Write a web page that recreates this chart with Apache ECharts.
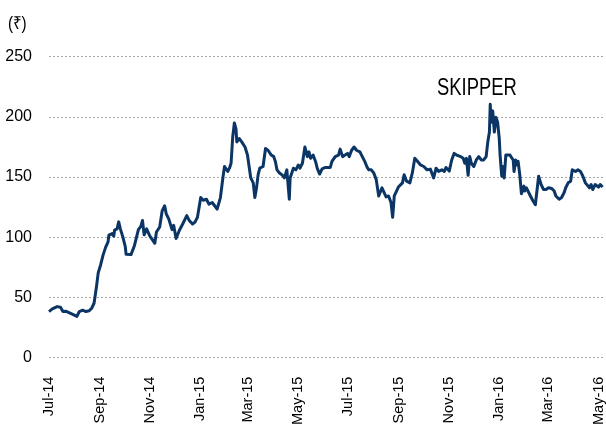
<!DOCTYPE html>
<html>
<head>
<meta charset="utf-8">
<script src="https://cdn.jsdelivr.net/npm/echarts@6/dist/echarts.min.js"></script>
<style>
html,body{margin:0;padding:0;background:#fff;}
#chart{width:606px;height:428px;}
</style>
</head>
<body>
<div id="chart"></div>
<script>
const dates = [
'2014-07-01','2014-07-05','2014-07-11','2014-07-15','2014-07-18','2014-07-22','2014-07-24','2014-07-30','2014-08-04','2014-08-07',
'2014-08-11','2014-08-15','2014-08-19','2014-08-22','2014-08-25','2014-08-28','2014-08-30','2014-09-02','2014-09-05','2014-09-08',
'2014-09-11','2014-09-12','2014-09-16','2014-09-18','2014-09-19','2014-09-22','2014-09-24','2014-09-26','2014-09-29','2014-10-02',
'2014-10-03','2014-10-09','2014-10-13','2014-10-18','2014-10-21','2014-10-23','2014-10-25','2014-10-28','2014-10-30','2014-11-01',
'2014-11-04','2014-11-07','2014-11-09','2014-11-13','2014-11-16','2014-11-19','2014-11-21','2014-11-24','2014-11-28','2014-11-30',
'2014-12-03','2014-12-07','2014-12-11','2014-12-16','2014-12-19','2014-12-23','2014-12-26','2014-12-29','2015-01-02','2015-01-05',
'2015-01-09','2015-01-12','2015-01-16','2015-01-19','2015-01-22','2015-01-24','2015-01-26','2015-01-29','2015-01-31','2015-02-02',
'2015-02-04','2015-02-06','2015-02-08','2015-02-10','2015-02-12','2015-02-14','2015-02-15','2015-02-18','2015-02-21','2015-02-25',
'2015-02-28','2015-03-02','2015-03-04','2015-03-07','2015-03-09','2015-03-11','2015-03-13','2015-03-15','2015-03-19','2015-03-22',
'2015-03-25','2015-03-26','2015-03-29','2015-04-01','2015-04-03','2015-04-05','2015-04-08','2015-04-11','2015-04-14','2015-04-17',
'2015-04-20','2015-04-21','2015-04-25','2015-04-28','2015-05-01','2015-05-03','2015-05-06','2015-05-09','2015-05-12','2015-05-14',
'2015-05-16','2015-05-19','2015-05-22','2015-05-24','2015-05-27','2015-05-30','2015-06-03','2015-06-09','2015-06-11','2015-06-15',
'2015-06-19','2015-06-21','2015-06-24','2015-06-27','2015-06-30','2015-07-02','2015-07-05','2015-07-08','2015-07-11','2015-07-15',
'2015-07-18','2015-07-21','2015-07-24','2015-07-26','2015-07-29','2015-08-01','2015-08-04','2015-08-07','2015-08-11','2015-08-13',
'2015-08-16','2015-08-19','2015-08-22','2015-08-24','2015-08-26','2015-08-28','2015-08-31','2015-09-05','2015-09-07','2015-09-10',
'2015-09-14','2015-09-17','2015-09-20','2015-09-23','2015-09-27','2015-10-01','2015-10-05','2015-10-09','2015-10-13','2015-10-16',
'2015-10-19','2015-10-23','2015-10-26','2015-10-28','2015-11-01','2015-11-04','2015-11-07','2015-11-10','2015-11-12','2015-11-15',
'2015-11-18','2015-11-20','2015-11-22','2015-11-24','2015-11-26','2015-11-28','2015-12-01','2015-12-04','2015-12-07','2015-12-10',
'2015-12-13','2015-12-16','2015-12-18','2015-12-20','2015-12-21','2015-12-22','2015-12-24','2015-12-26','2015-12-28','2015-12-30',
'2016-01-01','2016-01-02','2016-01-04','2016-01-05','2016-01-07','2016-01-09','2016-01-11','2016-01-14','2016-01-16','2016-01-18',
'2016-01-19','2016-01-21','2016-01-22','2016-01-24','2016-01-26','2016-01-28','2016-01-31','2016-02-01','2016-02-03','2016-02-05',
'2016-02-08','2016-02-11','2016-02-14','2016-02-16','2016-02-18','2016-02-21','2016-02-24','2016-02-27','2016-03-01','2016-03-05',
'2016-03-08','2016-03-10','2016-03-14','2016-03-17','2016-03-20','2016-03-22','2016-03-25','2016-03-28','2016-03-30','2016-04-03',
'2016-04-06','2016-04-09','2016-04-12','2016-04-15','2016-04-17','2016-04-20','2016-04-22','2016-04-24','2016-04-27','2016-05-01',
'2016-05-03','2016-05-06'
];
const prices = [
38.3,40.5,42.4,41.8,38.3,38.5,37.0,36.0,34.3,38.3,
39.4,38.3,38.9,41.0,45.4,59.5,70.4,77.2,85.4,91.6,
96.2,101.7,103.0,101.0,106.0,107.0,112.8,107.0,100.3,92.2,
85.9,85.6,92.7,106.3,109.0,114.0,102.0,107.0,108.5,101.0,
98.0,95.0,104.4,108.5,122.0,126.2,119.3,115.3,106.3,109.9,
99.0,105.8,111.0,118.0,114.0,111.0,112.6,116.6,133.0,130.8,
131.6,127.5,128.9,126.2,123.4,124.8,133.0,149.3,158.8,157.4,
154.7,157.4,161.5,183.3,195.0,190.0,179.2,182.0,179.2,175.0,
168.3,158.8,149.3,145.2,133.0,141.0,152.0,157.4,158.8,173.7,
172.3,171.0,168.3,167.0,162.9,156.0,153.4,152.0,149.3,156.0,
131.6,149.3,157.4,156.0,160.0,157.4,161.5,175.0,167.0,171.0,
165.6,168.3,163.0,157.4,152.5,156.9,158.0,158.0,163.0,167.0,
168.3,173.2,167.0,168.3,169.7,167.0,172.3,175.0,172.3,171.0,
167.0,163.0,158.0,156.0,156.0,153.4,147.9,134.3,141.0,139.7,
133.5,134.3,128.9,116.6,134.3,133.0,141.7,145.2,152.0,146.6,
145.2,153.4,165.6,163.4,160.1,158.8,156.0,156.6,149.3,157.4,
154.7,156.0,154.7,158.0,155.0,164.2,169.7,168.3,169.7,167.0,
165.6,161.5,165.6,151.5,167.0,161.5,158.8,164.2,167.0,164.2,
164.2,167.0,179.2,187.4,210.5,195.5,205.0,187.4,199.6,195.5,
182.0,168.3,150.7,158.8,149.3,168.3,169.7,168.3,169.7,164.2,
154.7,164.2,160.1,163.0,152.0,136.2,142.5,138.4,141.1,139.7,
134.3,130.3,127.0,127.0,150.7,143.8,139.7,139.7,141.1,140.5,
138.4,134.3,131.6,133.0,137.0,141.1,145.2,146.6,156.0,154.7,
156.0,154.7,150.7,145.2,146.6,141.1,143.8,139.7,143.8,141.7,
143.8,141.7
];
const tickDates = ['2014-07-01','2014-09-01','2014-11-01','2015-01-01','2015-03-01','2015-05-01',
                   '2015-07-01','2015-09-01','2015-11-01','2016-01-01','2016-03-01','2016-05-01'];
const yTicks = [0, 50, 100, 150, 200, 250];
const seriesName = 'SKIPPER';
const unitLabel = '(₹)';

const monthNames = ['Jan','Feb','Mar','Apr','May','Jun','Jul','Aug','Sep','Oct','Nov','Dec'];
const DAY = 86400000;
// date string -> day number (days since 1970-01-01, UTC)
function toDay(s){ const p = s.split('-').map(Number); return Math.round(Date.UTC(p[0], p[1]-1, p[2]) / DAY); }
function dayLabel(n){ const d = new Date(n * DAY); return monthNames[d.getUTCMonth()] + '-' + String(d.getUTCFullYear()).slice(2); }
const FONT = "'Liberation Sans',Arial,sans-serif";

const chart = echarts.init(document.getElementById('chart'), null, {renderer:'canvas'});
chart.setOption({
  animation: false,
  backgroundColor: '#ffffff',
  grid: { left: 49, right: 0, top: 56.7, bottom: 65.5, containLabel: false },
  graphic: [
    { type: 'text', x: 8, y: 15, scaleX: 0.85, originX: 0,
      style: { text: unitLabel, font: "18px " + FONT, fill: '#000' } },
    { type: 'text', x: 437, y: 77, scaleX: 0.8, originX: 0,
      style: { text: seriesName, font: "23px " + FONT, fill: '#000' } }
  ],
  xAxis: {
    type: 'value',
    min: toDay('2014-07-01'),
    max: toDay('2016-05-09'),
    axisLine: { show: false },
    axisTick: { show: false },
    splitLine: { show: false },
    axisLabel: {
      customValues: tickDates.map(toDay),
      rotate: 90,
      margin: 19,
      color: '#000',
      fontSize: 14.5,
      fontFamily: FONT,
      hideOverlap: false,
      formatter: function (v) { return dayLabel(v); }
    }
  },
  yAxis: {
    type: 'value',
    min: yTicks[0],
    max: yTicks[yTicks.length - 1],
    interval: yTicks[1] - yTicks[0],
    axisLine: { show: false },
    axisTick: { show: false },
    axisLabel: { color: '#000', fontSize: 16, fontFamily: FONT, margin: 17 },
    splitLine: { show: true, lineStyle: { type: [2, 2], color: '#a6a6a6', width: 1 } }
  },
  series: [{
    name: seriesName,
    type: 'line',
    data: dates.map((d, i) => [toDay(d), prices[i]]),
    showSymbol: false,
    symbol: 'none',
    lineStyle: { color: '#0b3565', width: 3, join: 'round' },
    silent: true
  }]
});
</script>
</body>
</html>
